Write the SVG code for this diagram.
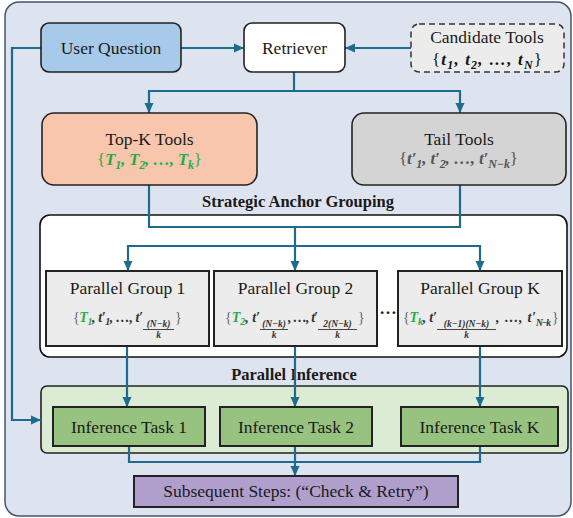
<svg xmlns="http://www.w3.org/2000/svg" width="573" height="518" viewBox="0 0 573 518">
  <defs>
    <marker id="arr" markerUnits="userSpaceOnUse" markerWidth="11" markerHeight="10" refX="10" refY="5" orient="auto">
      <path d="M0,0.5 L10,5 L0,9.5 z" fill="#1f6b8e"/>
    </marker>
    <style>
      .lbl { font-family: "Liberation Serif", "DejaVu Serif", serif; font-size: 17.5px; fill: #1a1a1a; }
      .hdr { font-family: "Liberation Serif", "DejaVu Serif", serif; font-size: 16.5px; font-weight: bold; fill: #1a1a1a; }
      .mi { font-family: "Liberation Serif", "DejaVu Serif", serif; font-style: italic; font-weight: bold; }
      .br { font-family: "Liberation Serif", "DejaVu Serif", serif; font-style: normal; font-weight: normal; }
      .con { fill: none; stroke: #1f6b8e; stroke-width: 2.2; }
      .box { stroke: #222; stroke-width: 1.6; }
      .sq { stroke: #222; stroke-width: 2; }
      .grp { fill: #ececec; }
      .task { fill: #97c27f; }
      .frac { font-family: "Liberation Serif", "DejaVu Serif", serif; font-style: italic; font-weight: bold; font-size: 9.5px; fill: #333; }
      .bar { stroke: #333; stroke-width: 0.9; }
    </style>
  </defs>

  <!-- outer panel -->
  <rect x="5" y="2" width="566" height="514" rx="14" fill="#dde4ef" stroke="#44566a" stroke-width="1.5"/>

  <!-- grouping container -->
  <g id="anchor-grouping">
    <text class="hdr" x="298" y="207" text-anchor="middle">Strategic Anchor Grouping</text>
    <rect x="40" y="215" width="527" height="142" rx="10" fill="#ffffff" stroke="#111" stroke-width="1.6"/>
  </g>

  <!-- inference container -->
  <g id="parallel-inference">
    <text class="hdr" x="294" y="380" text-anchor="middle">Parallel Inference</text>
    <rect x="41" y="386" width="527" height="67" rx="6" fill="#dcebd4" stroke="#222" stroke-width="1.6"/>
  </g>

  <!-- connectors -->
  <g id="connectors">
    <path class="con" d="M181,48 H244" marker-end="url(#arr)"/>
    <path class="con" d="M411,48 H345" marker-end="url(#arr)"/>
    <path class="con" d="M294,72 V91 H149 V113" marker-end="url(#arr)"/>
    <path class="con" d="M294,91 H460 V113" marker-end="url(#arr)"/>
    <path class="con" d="M149,185 V227 H460 V185"/>
    <path class="con" d="M295,227 V271" marker-end="url(#arr)"/>
    <path class="con" d="M295,246 H128 V271" marker-end="url(#arr)"/>
    <path class="con" d="M295,246 H480 V271" marker-end="url(#arr)"/>
    <path class="con" d="M127,346 V407" marker-end="url(#arr)"/>
    <path class="con" d="M295,346 V407" marker-end="url(#arr)"/>
    <path class="con" d="M480,346 V407" marker-end="url(#arr)"/>
    <path class="con" d="M129,446 V462 H480 V446"/>
    <path class="con" d="M295,446 V476" marker-end="url(#arr)"/>
    <path class="con" d="M41,48 H12 V420 H41" marker-end="url(#arr)"/>
  </g>

  <g id="user-question">
    <rect class="box" x="41" y="23" width="140" height="49" rx="8" fill="#a7caeb"/>
    <text class="lbl" x="111" y="54" text-anchor="middle">User Question</text>
  </g>

  <g id="retriever">
    <rect class="box" x="244" y="23" width="101" height="49" rx="8" fill="#ffffff"/>
    <text class="lbl" x="294.5" y="54" text-anchor="middle">Retriever</text>
  </g>

  <g id="candidate-tools">
    <rect x="411" y="24" width="153" height="48" rx="8" fill="#ececec" stroke="#333" stroke-width="1.5" stroke-dasharray="6,4"/>
    <text class="lbl" x="487" y="43" text-anchor="middle">Candidate Tools</text>
    <text x="432" y="65" textLength="110" font-size="17" fill="#111"><tspan class="br">{</tspan><tspan class="mi">t</tspan><tspan class="mi" font-size="12" dy="4">1</tspan><tspan class="mi" dy="-4">, t</tspan><tspan class="mi" font-size="12" dy="4">2</tspan><tspan class="mi" dy="-4">, …, t</tspan><tspan class="mi" font-size="12" dy="4">N</tspan><tspan class="br" dy="-4">}</tspan></text>
  </g>

  <g id="top-k-tools">
    <rect class="box" x="42" y="113" width="215" height="72" rx="12" fill="#f7c6ac"/>
    <text class="lbl" x="149.5" y="145" text-anchor="middle">Top-K Tools</text>
    <text x="97" y="165" textLength="105" font-size="17" fill="#1fae4b"><tspan class="br">{</tspan><tspan class="mi">T</tspan><tspan class="mi" font-size="12" dy="4">1</tspan><tspan class="mi" dy="-4">, T</tspan><tspan class="mi" font-size="12" dy="4">2</tspan><tspan class="mi" dy="-4">, …, T</tspan><tspan class="mi" font-size="12" dy="4">k</tspan><tspan class="br" dy="-4">}</tspan></text>
  </g>

  <g id="tail-tools">
    <rect class="box" x="352" y="113" width="214" height="72" rx="12" fill="#d4d4d4"/>
    <text class="lbl" x="459" y="145" text-anchor="middle">Tail Tools</text>
    <text x="399" y="164" textLength="119" font-size="17" fill="#555"><tspan class="br">{</tspan><tspan class="mi">t′</tspan><tspan class="mi" font-size="12" dy="4">1</tspan><tspan class="mi" dy="-4">, t′</tspan><tspan class="mi" font-size="12" dy="4">2</tspan><tspan class="mi" dy="-4">, …, t′</tspan><tspan class="mi" font-size="12" dy="4">N−k</tspan><tspan class="br" dy="-4">}</tspan></text>
  </g>

  <g id="parallel-group-1">
    <rect class="sq grp" x="46" y="271" width="163" height="75"/>
    <text class="lbl" x="127.5" y="294" text-anchor="middle" font-size="16.5">Parallel Group 1</text>
    <text x="73" y="322" textLength="70" font-size="14" fill="#333"><tspan class="br" fill="#666">{</tspan><tspan class="mi" fill="#1fae4b">T</tspan><tspan class="mi" fill="#1fae4b" font-size="10" dy="3">1</tspan><tspan class="mi" dy="-3">, t′</tspan><tspan class="mi" font-size="10" dy="3">1</tspan><tspan class="mi" dy="-3">, …, t′</tspan></text>
    <text class="frac" x="158.5" y="327" text-anchor="middle">(N−k)</text>
    <line class="bar" x1="143" y1="329.5" x2="174" y2="329.5"/>
    <text class="frac" x="158.5" y="338" text-anchor="middle">k</text>
    <text class="br" x="175" y="322" font-size="14" fill="#666">}</text>
  </g>

  <g id="parallel-group-2">
    <rect class="sq grp" x="214" y="271" width="163" height="75"/>
    <text class="lbl" x="295.5" y="294" text-anchor="middle" font-size="16.5">Parallel Group 2</text>
    <text x="225" y="322" textLength="35" font-size="14" fill="#333"><tspan class="br" fill="#666">{</tspan><tspan class="mi" fill="#1fae4b">T</tspan><tspan class="mi" fill="#1fae4b" font-size="10" dy="3">2</tspan><tspan class="mi" dy="-3">, t′</tspan></text>
    <text class="frac" x="274" y="327" text-anchor="middle">(N−k)</text>
    <line class="bar" x1="260" y1="329.5" x2="288" y2="329.5"/>
    <text class="frac" x="274" y="338" text-anchor="middle">k</text>
    <text x="288" y="322" textLength="30" font-size="14" fill="#333"><tspan class="mi">, …, t′</tspan></text>
    <text class="frac" x="337.5" y="327" text-anchor="middle">2(N−k)</text>
    <line class="bar" x1="318" y1="329.5" x2="357" y2="329.5"/>
    <text class="frac" x="337.5" y="338" text-anchor="middle">k</text>
    <text class="br" x="358" y="322" font-size="14" fill="#666">}</text>
  </g>

  <text class="lbl" x="388" y="314" text-anchor="middle" font-weight="bold">…</text>

  <g id="parallel-group-k">
    <rect class="sq grp" x="398" y="271" width="164" height="75"/>
    <text class="lbl" x="480" y="294" text-anchor="middle" font-size="16.5">Parallel Group K</text>
    <text x="403" y="322" textLength="34" font-size="14" fill="#333"><tspan class="br" fill="#666">{</tspan><tspan class="mi" fill="#1fae4b">T</tspan><tspan class="mi" fill="#1fae4b" font-size="10" dy="3">k</tspan><tspan class="mi" dy="-3">, t′</tspan></text>
    <text class="frac" x="466.5" y="327" text-anchor="middle">(k−1)(N−k)</text>
    <line class="bar" x1="437" y1="329.5" x2="496" y2="329.5"/>
    <text class="frac" x="466.5" y="338" text-anchor="middle">k</text>
    <text x="496" y="322" textLength="40" font-size="14" fill="#333"><tspan class="mi">, …, t′</tspan></text>
    <text class="frac" x="536" y="326" font-size="9" textLength="15">N−k</text>
    <text class="br" x="552" y="322" font-size="14" fill="#666">}</text>
  </g>

  <g id="inference-task-1">
    <rect class="sq task" x="53" y="407" width="152" height="39"/>
    <text class="lbl" x="129" y="433" text-anchor="middle">Inference Task 1</text>
  </g>

  <g id="inference-task-2">
    <rect class="sq task" x="220" y="407" width="152" height="39"/>
    <text class="lbl" x="296" y="433" text-anchor="middle">Inference Task 2</text>
  </g>

  <g id="inference-task-k">
    <rect class="sq task" x="401" y="407" width="157" height="39"/>
    <text class="lbl" x="479.5" y="433" text-anchor="middle">Inference Task K</text>
  </g>

  <g id="subsequent-steps">
    <rect class="sq" x="134" y="476" width="324" height="31" fill="#b09fcd"/>
    <text class="lbl" x="296" y="497" text-anchor="middle">Subsequent Steps: (“Check &amp; Retry”)</text>
  </g>
</svg>
